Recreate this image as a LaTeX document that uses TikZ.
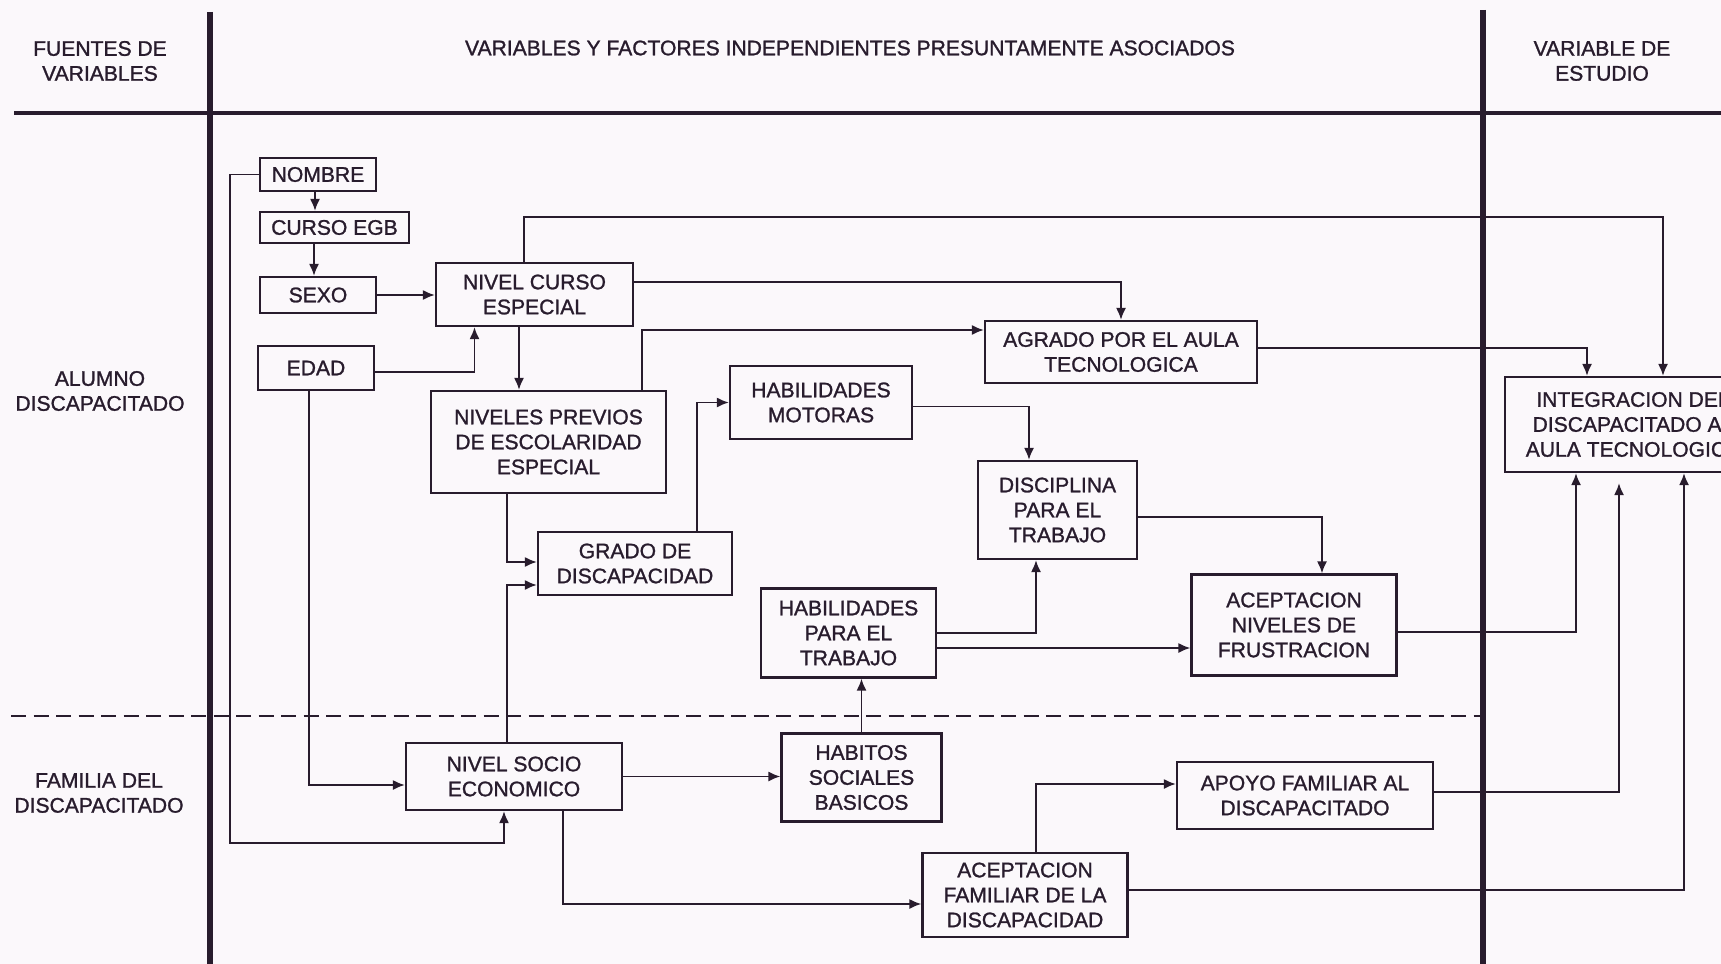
\documentclass[tikz,border=0pt]{standalone}
\usepackage{fontspec}
\setmainfont{Liberation Sans}
\newfontfamily\scanfont{Liberation Sans}[FakeBold=1.2]
\usepackage{xcolor}
\usepackage{tikz}
\usetikzlibrary{arrows.meta}
\definecolor{ink}{RGB}{40,28,45}
\definecolor{paper}{RGB}{251,248,251}
\tikzset{
  blk/.style    = {draw=ink, line width=1.2pt, text=ink, inner sep=0pt,
                   font=\fontsize{12}{14.2}\scanfont, align=center},
  hdr/.style    = {text=ink, inner sep=0pt,
                   font=\fontsize{12}{14.2}\scanfont, align=center},
  arr/.style    = {-{Latex[length=2.4mm,width=2mm]}, draw=ink, line width=1.1pt},
  frame/.style  = {draw=ink, line width=3pt},
  framew/.style = {draw=ink, line width=2.6pt},
  divide/.style = {draw=ink, line width=1.4pt, dash pattern=on 3mm off 1.5mm}
}

\begin{document}
\begin{tikzpicture}[x=0.2mm, y=-0.2mm]
\useasboundingbox (0,0) rectangle (1721,964);
\fill[paper] (0,0) rectangle (1721,964);
\clip (0,0) rectangle (1721,964);
\draw[frame]  (210,12) -- (210,964);
\draw[frame]  (1483,10) -- (1483,964);
\draw[framew] (14,113) -- (1721,113);
\draw[divide] (11,716) -- (1483,716);
\node[hdr] (hfuentes)  at (100,61)  {FUENTES DE\\VARIABLES};
\node[hdr] (hvariab)   at (850,48)  {VARIABLES Y FACTORES INDEPENDIENTES PRESUNTAMENTE ASOCIADOS};
\node[hdr] (hestudio)  at (1602,61) {VARIABLE DE\\ESTUDIO};
\node[hdr] (halumno)   at (100,391) {ALUMNO\\DISCAPACITADO};
\node[hdr] (hfamilia)  at (99,793)  {FAMILIA DEL\\DISCAPACITADO};
\node[blk, minimum width=23.2mm, minimum height=6.6mm]  (nombre)   at (318,174.5)  {NOMBRE};
\node[blk, minimum width=29.8mm, minimum height=6.2mm]  (cursoegb) at (334.5,227.5) {CURSO EGB};
\node[blk, minimum width=23.2mm, minimum height=7.2mm]  (sexo)     at (318,295)    {SEXO};
\node[blk, minimum width=23.2mm, minimum height=8.8mm]  (edad)     at (316,368)    {EDAD};
\node[blk, minimum width=39.4mm, minimum height=12.6mm] (nivcurso) at (534.5,294.5)
      {NIVEL CURSO\\ESPECIAL};
\node[blk, minimum width=47mm,   minimum height=20.4mm] (nivprev)  at (548.5,442)
      {NIVELES PREVIOS\\DE ESCOLARIDAD\\ESPECIAL};
\node[blk, minimum width=36.4mm, minimum height=14.6mm] (habmot)   at (821,402.5)
      {HABILIDADES\\MOTORAS};
\node[blk, minimum width=54.4mm, minimum height=12.4mm] (agrado)   at (1121,352)
      {AGRADO POR EL AULA\\TECNOLOGICA};
\node[blk, minimum width=31.8mm, minimum height=19.6mm] (discip)   at (1057.5,510)
      {DISCIPLINA\\PARA EL\\TRABAJO};
\node[blk, minimum width=38.8mm, minimum height=12.6mm] (grado)    at (635,563.5)
      {GRADO DE\\DISCAPACIDAD};
\node[blk, minimum width=35mm,   minimum height=17.8mm] (habtrab)  at (848.5,633)
      {HABILIDADES\\PARA EL\\TRABAJO};
\node[blk, minimum width=41mm,   minimum height=20.2mm] (frustra)  at (1294,625)
      {ACEPTACION\\NIVELES DE\\FRUSTRACION};
\node[blk, minimum width=51.2mm, minimum height=19mm]   (integra)  at (1633,424.5)
      {INTEGRACION DEL\\DISCAPACITADO AL\\AULA TECNOLOGICA};
\node[blk, minimum width=43.2mm, minimum height=13.4mm] (nse)      at (514,776.5)
      {NIVEL SOCIO\\ECONOMICO};
\node[blk, minimum width=32mm,   minimum height=17.6mm] (habitos)  at (861.5,777.5)
      {HABITOS\\SOCIALES\\BASICOS};
\node[blk, minimum width=51.2mm, minimum height=13.4mm] (apoyo)    at (1305,795.5)
      {APOYO FAMILIAR AL\\DISCAPACITADO};
\node[blk, minimum width=41mm,   minimum height=16.8mm] (acepfam)  at (1025,895)
      {ACEPTACION\\FAMILIAR DE LA\\DISCAPACIDAD};
\draw[arr] ([xshift=-0.6mm]nombre.south) -- ([xshift=-0.6mm]nombre.south |- cursoegb.north);
\draw[arr] ([xshift=-0.8mm]sexo.north |- cursoegb.south) -- ([xshift=-0.8mm]sexo.north);
\draw[arr] (sexo.east) -- (sexo.east -| nivcurso.west);
\draw[arr] ([yshift=-0.8mm]edad.east) -| ([xshift=-12mm]nivcurso.south);
\draw[arr] (nombre.west) -- ++(-29,0) |- ([xshift=-2mm,yshift=-6.4mm]nse.south)
           -- ([xshift=-2mm]nse.south);
\draw[arr] ([xshift=-1.4mm]edad.south) |- ([yshift=-1.7mm]nse.west);
\draw[arr] ([xshift=-2.1mm]nivcurso.north) -- ++(0,-45) -| ([xshift=6mm]integra.north);
\draw[arr] ([yshift=2.5mm]nivcurso.east) -| (agrado.north);
\draw[arr] ([xshift=18.7mm]nivprev.north) |- ([yshift=4.4mm]agrado.west);
\draw[arr] ([xshift=-3.1mm]nivcurso.south) -- ([xshift=-3.1mm]nivcurso.south |- nivprev.north);
\draw[arr] ([xshift=-8.3mm]nivprev.south) |- ([yshift=0.3mm]grado.west);
\draw[arr] ([xshift=-1.4mm]nse.north) |- ([yshift=-4.3mm]grado.west);
\draw[arr] ([xshift=12.4mm]grado.north) |- (habmot.west);
\draw[arr] ([yshift=-0.8mm]habmot.east) -| ([xshift=-5.7mm]discip.north);
\draw[arr] ([yshift=-1.4mm]discip.east) -| ([xshift=5.6mm]frustra.north);
\draw[arr] (habtrab.east) -| ([xshift=-4.3mm]discip.south);
\draw[arr] ([yshift=-3mm]habtrab.east) -- ([yshift=-3mm]habtrab.east -| frustra.west);
\draw[arr] ([yshift=-1.4mm]frustra.east) -| ([xshift=-11.4mm]integra.south);
\draw[arr] ([yshift=0.8mm]agrado.east) -| ([xshift=-9.2mm]integra.north);
\draw[arr, shorten >=2mm] ([yshift=0.7mm]apoyo.east) -| ([xshift=-2.8mm]integra.south);
\draw[arr] ([yshift=1mm]acepfam.east) -| ([xshift=10.2mm]integra.south);
\draw[arr] (nse.east) -- (nse.east -| habitos.west);
\draw[arr] (habitos.north) -- (habitos.north |- habtrab.south);
\draw[arr] ([xshift=9.8mm]nse.south) |- ([yshift=-1.8mm]acepfam.west);
\draw[arr] ([xshift=2.2mm]acepfam.north) |- ([yshift=2.3mm]apoyo.west);
\end{tikzpicture}
\end{document}
